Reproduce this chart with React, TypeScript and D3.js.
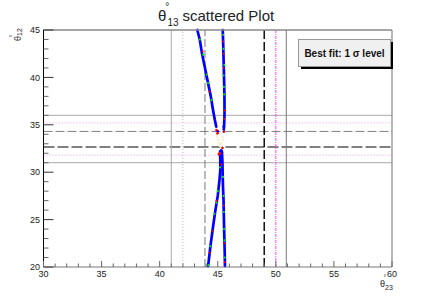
import React from "react";
import * as d3 from "d3";

// ---- data ----
const xTicks = [30, 35, 40, 45, 50, 55, 60];
const yTicks = [20, 25, 30, 35, 40, 45];

// sigma level lines on theta23 (vertical) and theta12 (horizontal)
const sigma3X = [41.0, 50.9];
const sigma2X = [42.0, 50.0];
const sigma1X = [43.9, 49.0];
const sigma3Y = [31.0, 36.0];
const sigma2Y = [31.8, 35.2];
const sigma1Y = [34.3];
const bestFitY = [32.66];

// scattered points, dense branches (blue)
const upperLeft: [number, number][] = [
  [43.24, 45], [43.45, 44], [43.65, 42.5], [43.9, 41], [44.15, 39.5],
  [44.4, 38], [44.6, 36.5], [44.75, 35.5], [44.87, 34.8],
];
const upperRight: [number, number][] = [
  [45.43, 45], [45.47, 43.5], [45.5, 42], [45.53, 40.5], [45.56, 39],
  [45.58, 37.5], [45.58, 36], [45.55, 35], [45.52, 34.5],
];
const lowerLeft: [number, number][] = [
  [45.2, 32.2], [45.22, 31.2], [45.22, 30.2], [45.15, 29.2], [45.0, 27.5],
  [44.8, 26], [44.6, 24.3], [44.38, 22.3], [44.17, 20.1],
];
const lowerRight: [number, number][] = [
  [45.35, 32.2], [45.4, 31.2], [45.42, 30], [45.45, 28.5], [45.5, 27],
  [45.53, 25], [45.57, 23], [45.6, 21.5], [45.62, 20.1],
];
const greenDots: [number, number][] = [
  [43.46, 44.0], [43.74, 42.4], [44.17, 39.4], [44.45, 37.6], [45.5, 40.2],
  [45.53, 39.0], [45.55, 38.2], [45.47, 44.5], [45.2, 30.5], [45.0, 28],
  [44.7, 25.6], [44.35, 22.2], [44.2, 20.2], [45.5, 27.5], [45.55, 24],
  [45.6, 21], [45.45, 29.5], [45.57, 41.3], [44.05, 40.3], [44.9, 26.8],
  [45.52, 25.8], [45.58, 22.8], [45.5, 43.0],
];
const redDots: [number, number][] = [
  [43.7, 42.75], [44.3, 38.5], [45.48, 43.8], [45.5, 42.5], [45.52, 41.0],
  [45.58, 36.5], [45.55, 35.6], [44.9, 27], [44.55, 23.8], [44.3, 21.5],
  [45.52, 26.5], [45.58, 22.5], [45.6, 20.5], [45.3, 30.8],
];
const gapRed: [number, number][] = [
  [44.89, 34.45], [44.98, 34.1], [45.52, 34.27], [45.41, 32.55],
  [45.18, 32.03], [45.1, 31.9],
];
const gapPale: [number, number][] = [
  [44.94, 33.75], [45.03, 33.4], [45.12, 33.05], [45.46, 33.4],
  [45.32, 33.05], [45.2, 32.8], [45.25, 32.7], [45.4, 33.7],
];
const gapBlue: [number, number][] = [
  [45.52, 34.8], [45.0, 34.3], [45.3, 32.3], [45.35, 32.1],
];

const FONT = "'Liberation Sans', Arial, Helvetica, sans-serif";

export default function App() {
  const W = 436, H = 297;
  const x = d3.scaleLinear().domain([30, 60]).range([43.5, 392]);
  const y = d3.scaleLinear().domain([20, 45]).range([267, 30]);
  const [x0, x1] = x.range();
  const [y0, y1] = y.range();

  const line = d3.line<[number, number]>().x((d) => x(d[0])).y((d) => y(d[1]));

  const minorX = d3.range(30, 60.01, 1);
  const minorY = d3.range(20, 45.01, 1);

  const vStyles = {
    s3: [{ stroke: "#aaaaaa", w: 1 }, { stroke: "#777777", w: 1 }],
    s2: [{ stroke: "#ee99ee", w: 1, dash: "1,2" }, { stroke: "#ff44ff", w: 1, dash: "3,1,1,1" }],
    s1: [{ stroke: "#777777", w: 1, dash: "8,3" }, { stroke: "#000000", w: 1.4, dash: "9,3" }],
  };

  return (
    <svg
      width={W}
      height={H}
      style={{ position: "absolute", left: 0, top: 0, background: "#fff" }}
      fontFamily={FONT}
    >
      <rect x={0} y={0} width={W} height={H} fill="#ffffff" />

      {/* horizontal sigma lines */}
      {sigma3Y.map((v, i) => (
        <line key={"h3" + i} x1={x0} x2={x1} y1={y(v)} y2={y(v)} stroke="#aaaaaa" strokeWidth={1} />
      ))}
      {sigma2Y.map((v, i) => (
        <line key={"h2" + i} x1={x0} x2={x1} y1={y(v)} y2={y(v)} stroke="#ee99ee" strokeWidth={1} strokeDasharray="1,2" />
      ))}
      {sigma1Y.map((v, i) => (
        <line key={"h1" + i} x1={x0} x2={x1} y1={y(v)} y2={y(v)} stroke="#808080" strokeWidth={1} strokeDasharray="9,3" />
      ))}
      {bestFitY.map((v, i) => (
        <line key={"hb" + i} x1={x0} x2={x1} y1={y(v)} y2={y(v)} stroke="#808080" strokeWidth={2.2} strokeDasharray="11,3" />
      ))}

      {/* vertical sigma lines */}
      {sigma3X.map((v, i) => (
        <line key={"v3" + i} x1={x(v)} x2={x(v)} y1={y0} y2={y1} stroke={vStyles.s3[i].stroke} strokeWidth={vStyles.s3[i].w} />
      ))}
      {sigma2X.map((v, i) => (
        <line key={"v2" + i} x1={x(v)} x2={x(v)} y1={y0} y2={y1} stroke={vStyles.s2[i].stroke} strokeWidth={vStyles.s2[i].w} strokeDasharray={vStyles.s2[i].dash} />
      ))}
      {sigma1X.map((v, i) => (
        <line key={"v1" + i} x1={x(v)} x2={x(v)} y1={y0} y2={y1} stroke={vStyles.s1[i].stroke} strokeWidth={vStyles.s1[i].w} strokeDasharray={vStyles.s1[i].dash} />
      ))}

      {/* scattered points */}
      {[upperLeft, upperRight, lowerLeft, lowerRight].map((seg, i) => (
        <path key={"seg" + i} d={line(seg) || ""} fill="none" stroke="#0000ff" strokeWidth={2.7} strokeLinecap="round" strokeLinejoin="round" />
      ))}
      {gapPale.map((d, i) => (
        <circle key={"gp" + i} cx={x(d[0])} cy={y(d[1])} r={1.4} fill="#f2f2d0" />
      ))}
      {gapBlue.map((d, i) => (
        <circle key={"gb" + i} cx={x(d[0])} cy={y(d[1])} r={1.4} fill="#0000ff" />
      ))}
      {gapRed.map((d, i) => (
        <circle key={"gr" + i} cx={x(d[0])} cy={y(d[1])} r={1.3} fill="#ff0000" />
      ))}
      {greenDots.map((d, i) => (
        <circle key={"g" + i} cx={x(d[0])} cy={y(d[1])} r={1.1} fill="#00ee00" />
      ))}
      {redDots.map((d, i) => (
        <circle key={"r" + i} cx={x(d[0])} cy={y(d[1])} r={1.0} fill="#ff0000" />
      ))}

      {/* frame */}
      <line x1={x0} x2={x1} y1={y1} y2={y1} stroke="#888888" strokeWidth={1.3} />
      <line x1={x1} x2={x1} y1={y1} y2={y0} stroke="#888888" strokeWidth={1.2} />
      <line x1={x0} x2={x1} y1={y0} y2={y0} stroke="#777777" strokeWidth={1} />
      <line x1={x0} x2={x0} y1={y1} y2={y0} stroke="#000000" strokeWidth={1} />

      {/* x ticks */}
      {minorX.map((v) => (
        <line key={"xt" + v} x1={x(v)} x2={x(v)} y1={y0} y2={y0 - (v % 5 === 0 ? 6 : 3.5)} stroke="#666666" strokeWidth={1} />
      ))}
      {xTicks.map((v) => (
        <text key={"xl" + v} x={x(v)} y={276.5} fontSize={9} textAnchor="middle" fill="#222">
          {v}
        </text>
      ))}
      {/* y ticks */}
      {minorY.map((v) => (
        <line key={"yt" + v} x1={x0} x2={x0 + (v % 5 === 0 ? 10 : 5)} y1={y(v)} y2={y(v)} stroke={v % 5 === 0 ? "#333333" : "#666666"} strokeWidth={1} />
      ))}
      {yTicks.map((v) => (
        <text key={"yl" + v} x={40} y={y(v) + 3.2} fontSize={9} textAnchor="end" fill="#222">
          {v}
        </text>
      ))}

      {/* title */}
      <text x={158} y={20.5} fontSize={15} fill="#222">θ</text>
      <text x={165.3} y={9.5} fontSize={10} fill="#222">°</text>
      <text x={167.5} y={26} fontSize={10} fill="#222">13</text>
      <text x={182.5} y={20.5} fontSize={15} fill="#222">scattered Plot</text>

      {/* y axis title */}
      <g transform="translate(21,41) rotate(-90)">
        <text x={0} y={0} fontSize={9} fill="#222">θ<tspan fontSize={7} dy={1}>12</tspan></text>
        <text x={3.5} y={-6.5} fontSize={7} fill="#222">°</text>
      </g>

      {/* x axis title */}
      <text x={380} y={287} fontSize={9} fill="#222">θ<tspan fontSize={7} dy={3}>23</tspan></text>
      <text x={383.5} y={280} fontSize={7} fill="#222">°</text>

      {/* legend */}
      <rect x={301} y={42} width={92} height={27} fill="#000000" />
      <rect x={298.5} y={39.5} width={92} height={27} fill="#f0f0f0" stroke="#999999" strokeWidth={1} />
      <text x={344.5} y={57} fontSize={10} fontWeight="bold" textAnchor="middle" fill="#111">
        Best fit: 1 σ level
      </text>
    </svg>
  );
}
